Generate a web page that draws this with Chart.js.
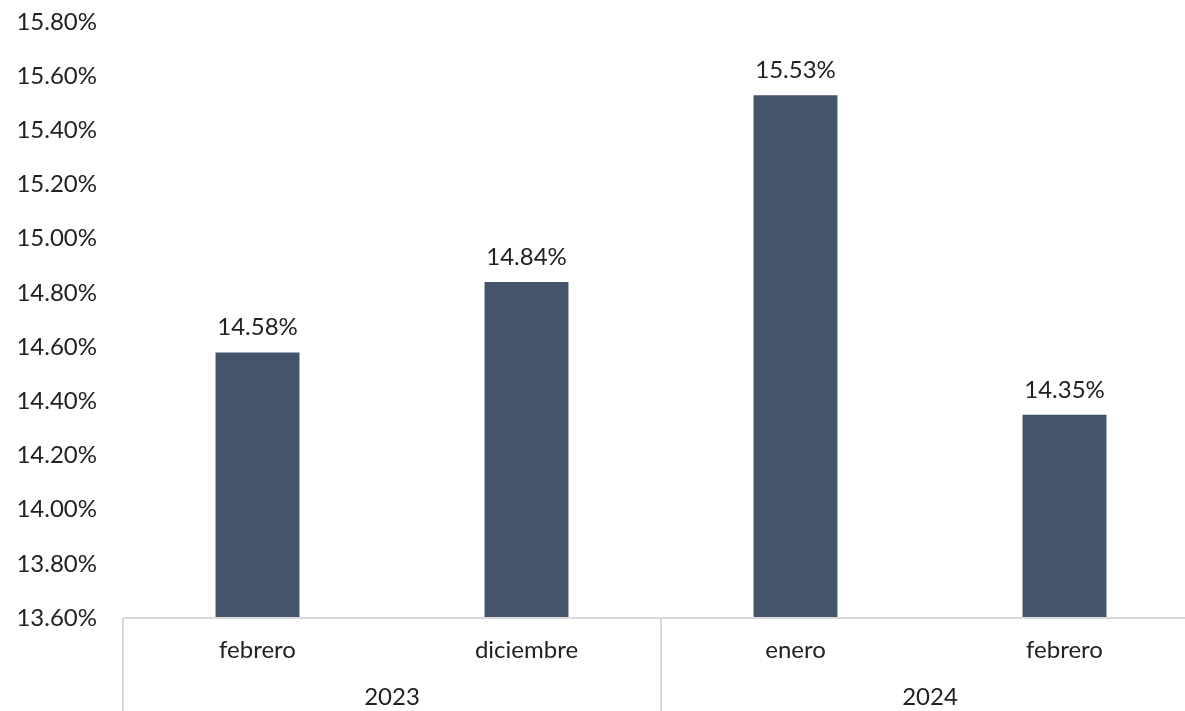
<!DOCTYPE html>
<html>
<head>
<meta charset="utf-8">
<script src="https://cdn.jsdelivr.net/npm/chart.js@4.4.1/dist/chart.umd.min.js"></script>
<style>
  html, body { margin: 0; padding: 0; background: #fff; overflow: hidden; }
  #wrap { width: 1200px; height: 711px; position: relative; }
</style>
</head>
<body>
<div id="wrap"><canvas id="myChart"></canvas></div>
<script>
// monthly rate, grouped by year on the category axis
var months = ['febrero', 'diciembre', 'enero', 'febrero'];
var years = ['2023', '2023', '2024', '2024'];
var rates = [14.58, 14.84, 15.53, 14.35];
var yTicks = [13.6, 13.8, 14.0, 14.2, 14.4, 14.6, 14.8, 15.0, 15.2, 15.4, 15.6, 15.8];

var textColor = '#222222';
var lineColor = '#d9d9d9';
var fontFamily = 'Lato, "Open Sans", sans-serif';
var fontSize = 24;

// value labels over each bar
var barLabels = {
  id: 'barLabels',
  afterDatasetsDraw: function(chart) {
    var c = chart.ctx;
    var meta = chart.getDatasetMeta(0);
    c.save();
    c.font = fontSize + 'px ' + fontFamily;
    c.fillStyle = textColor;
    c.textAlign = 'center';
    c.textBaseline = 'middle';
    meta.data.forEach(function(bar, i) {
      c.fillText(rates[i].toFixed(2) + '%', bar.x, bar.y - 25);
    });
    c.restore();
  }
};

// second level of the category axis: year groups with separators
var yearAxis = {
  id: 'yearAxis',
  afterDraw: function(chart) {
    var c = chart.ctx;
    var x = chart.scales.x;
    var area = chart.chartArea;
    var half = (x.getPixelForValue(1) - x.getPixelForValue(0)) / 2;
    c.save();
    c.strokeStyle = lineColor;
    c.lineWidth = 2;
    // axis line
    c.beginPath();
    c.moveTo(area.left, area.bottom);
    c.lineTo(area.right, area.bottom);
    c.stroke();

    var groups = [];
    years.forEach(function(y, i) {
      var g = groups[groups.length - 1];
      if (!g || g.name !== y) groups.push({ name: y, first: i, last: i });
      else g.last = i;
    });

    c.font = fontSize + 'px ' + fontFamily;
    c.fillStyle = textColor;
    c.textAlign = 'center';
    c.textBaseline = 'middle';
    groups.forEach(function(g, k) {
      var l = x.getPixelForValue(g.first) - half;
      var r = x.getPixelForValue(g.last) + half;
      c.beginPath();
      c.moveTo(l, area.bottom);
      c.lineTo(l, chart.height);
      c.stroke();
      if (k === groups.length - 1) {
        c.beginPath();
        c.moveTo(r, area.bottom);
        c.lineTo(r, chart.height);
        c.stroke();
      }
      c.fillText(g.name, (l + r) / 2, area.bottom + 79);
    });
    c.restore();
  }
};

var ctx = document.getElementById('myChart');

var myChart = new Chart(ctx, {
  type: 'bar',
  data: {
    labels: months,
    datasets: [{
      data: rates,
      backgroundColor: '#44546a',
      barPercentage: 0.312,
      categoryPercentage: 1.0
    }]
  },
  options: {
    responsive: true,
    maintainAspectRatio: false,
    animation: false,
    layout: { padding: { top: 22, right: 1, left: 0, bottom: 0 } },
    plugins: {
      legend: { display: false },
      tooltip: { enabled: false }
    },
    scales: {
      x: {
        offset: true,
        grid: { display: false },
        border: { display: false },
        ticks: {
          color: textColor,
          font: { family: fontFamily, size: fontSize },
          padding: 10,
          maxRotation: 0
        },
        afterFit: function(scale) {
          scale.height = 93;
          scale.paddingLeft = 0;
          scale.paddingRight = 0;
        }
      },
      y: {
        min: 13.6,
        max: 15.8,
        grid: { display: false },
        border: { display: false },
        afterBuildTicks: function(scale) {
          scale.ticks = yTicks.map(function(v) { return { value: v }; });
        },
        ticks: {
          color: textColor,
          font: { family: fontFamily, size: fontSize },
          padding: 18,
          callback: function(v) { return v.toFixed(2) + '%'; }
        },
        afterFit: function(scale) {
          scale.width = 123;
          scale.paddingTop = 0;
          scale.paddingBottom = 0;
        }
      }
    }
  },
  plugins: [barLabels, yearAxis]
});
</script>
</body>
</html>
